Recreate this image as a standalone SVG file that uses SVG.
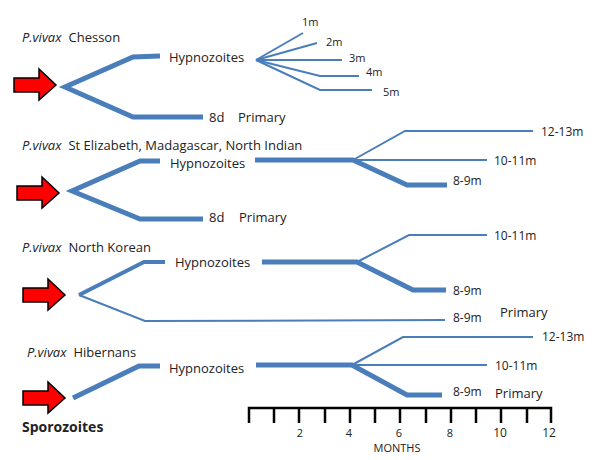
<svg xmlns="http://www.w3.org/2000/svg" width="600" height="460" viewBox="0 0 600 460">
<style>
text{font-family:"Open Sans","Liberation Sans",sans-serif;fill:#222}
.t{font-size:13px}
.s{font-size:11px}
.m{font-size:12px}
.i{font-style:italic}
.b{font-weight:bold;font-size:14px}
.thick{fill:none;stroke:#4a7ebb;stroke-width:5;stroke-linejoin:miter}
.thin{fill:none;stroke:#4a7ebb;stroke-width:2}
.mid{fill:none;stroke:#4a7ebb;stroke-width:4}
.ax{fill:none;stroke:#000;stroke-width:2.5}
.ar{fill:#ff0000;stroke:#000;stroke-width:1.5;stroke-linejoin:miter}
</style>
<defs>
<polygon id="arrow" class="ar" points="0,9 25,9 25,0 42,16 25,31 25,23 0,23"/>
</defs>
<g id="connectors">
<!-- section 1 -->
<polyline class="thick" points="160,56 133,57 65,87 133,117 203,117"/>
<polyline class="thin" points="256,60 303,33"/>
<polyline class="thin" points="256,60 317,43"/>
<polyline class="thin" points="256,60 342,60"/>
<polyline class="thin" points="256,60 320,76 359,76"/>
<polyline class="thin" points="256,60 320,90 372,90"/>
<!-- section 2 -->
<polyline class="thick" points="160,161 140,161 72,191 140,219 203,219"/>
<polyline class="thick" points="255,160 353,160 407,185 447,185"/>
<polyline class="thin" points="353,160 405,131 533,131"/>
<polyline class="thin" points="353,160 487,160"/>
<!-- section 3 -->
<polyline class="mid" points="165,262 144,262 79,295"/>
<polyline class="thin" points="79,295 145,321 445,320"/>
<polyline class="thick" points="262,262 357,262 413,290 446,290"/>
<polyline class="thin" points="357,262 409,235 487,235"/>
<!-- section 4 -->
<polyline class="thick" points="73,398 139,366 160,366"/>
<polyline class="thick" points="256,365 352,365 407,395 442,395"/>
<polyline class="thin" points="352,365 403,337 533,337"/>
<polyline class="thin" points="352,365 487,365"/>
</g>
<g id="sec1">
<text class="t" x="22" y="42"><tspan class="i">P.vivax</tspan><tspan dx="7">Chesson</tspan></text>
<use href="#arrow" x="14" y="69"/>
<text class="t" x="169" y="62">Hypnozoites</text>
<text class="t" x="209" y="122">8d</text>
<text class="t" x="238" y="122">Primary</text>
<text class="s" x="302" y="26">1m</text>
<text class="s" x="326" y="46">2m</text>
<text class="s" x="349" y="62">3m</text>
<text class="s" x="366" y="76">4m</text>
<text class="s" x="383" y="96">5m</text>
</g>
<g id="sec2">
<text class="t" x="22" y="150"><tspan class="i">P.vivax</tspan><tspan dx="7">St Elizabeth, Madagascar, North Indian</tspan></text>
<use href="#arrow" x="17" y="177"/>
<text class="t" x="170" y="168">Hypnozoites</text>
<text class="t" x="209" y="222">8d</text>
<text class="t" x="239" y="222">Primary</text>
<text class="m" x="541" y="136">12-13m</text>
<text class="m" x="494" y="165">10-11m</text>
<text class="m" x="453" y="185">8-9m</text>
</g>
<g id="sec3">
<text class="t" x="22" y="252"><tspan class="i">P.vivax</tspan><tspan dx="7">North Korean</tspan></text>
<use href="#arrow" x="23" y="279"/>
<text class="t" x="175" y="267">Hypnozoites</text>
<text class="m" x="494" y="240">10-11m</text>
<text class="m" x="453" y="295">8-9m</text>
<text class="m" x="453" y="322">8-9m</text>
<text class="t" x="500" y="317">Primary</text>
</g>
<g id="sec4">
<text class="t" x="27" y="357"><tspan class="i">P.vivax</tspan><tspan dx="7">Hibernans</tspan></text>
<use href="#arrow" x="23" y="382"/>
<text class="t" x="169" y="373">Hypnozoites</text>
<text class="m" x="542" y="341">12-13m</text>
<text class="m" x="495" y="370">10-11m</text>
<text class="m" x="453" y="396">8-9m</text>
<text class="t" x="495" y="398">Primary</text>
<text class="b" x="22" y="432">Sporozoites</text>
</g>
<g id="axis">
<path class="ax" d="M249,423 V408 H551 V423 M274,408 V423 M299,408 V423 M325,408 V423 M350,408 V423 M375,408 V423 M400,408 V423 M426,408 V423 M451,408 V423 M476,408 V423 M501,408 V423 M527,408 V423"/>
<g text-anchor="middle">
<text class="s" x="300" y="437">2</text>
<text class="s" x="349" y="437">4</text>
<text class="s" x="399" y="437">6</text>
<text class="s" x="450" y="437">8</text>
<text class="m" x="500" y="437">10</text>
<text class="m" x="549" y="437">12</text>
<text class="s" x="397" y="452">MONTHS</text>
</g>
</g>
</svg>
